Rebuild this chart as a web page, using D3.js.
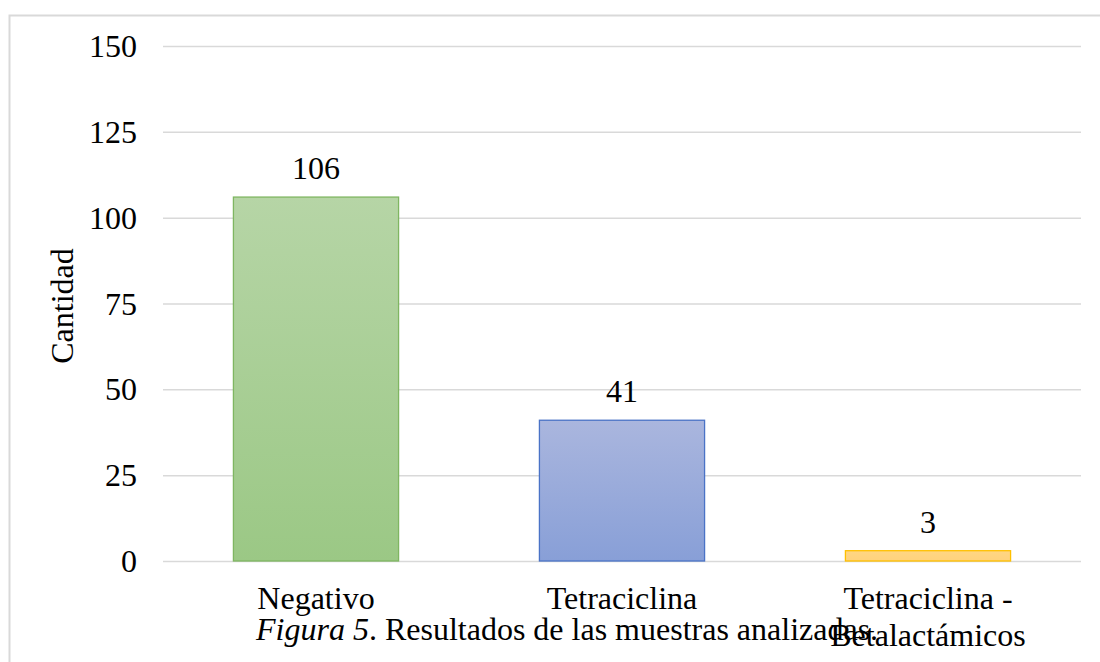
<!DOCTYPE html>
<html>
<head>
<meta charset="utf-8">
<script src="https://cdn.jsdelivr.net/npm/d3@7"></script>
<style>
  html, body { margin: 0; padding: 0; background: #fff; }
  svg { display: block; }
  svg text { font-family: "Liberation Serif", "Times New Roman", serif !important; fill: #000; }
</style>
</head>
<body>
<svg id="chart" width="1100" height="662"></svg>
<script>
// Resultados de las muestras analizadas
const categories = ["Negativo", "Tetraciclina", "Tetraciclina - Betalactámicos"];
const categoryLines = [["Negativo"], ["Tetraciclina"], ["Tetraciclina -", "Betalactámicos"]];
const values = [106, 41, 3];
const yTicks = [0, 25, 50, 75, 100, 125, 150];
const fillTop = ["#b6d5a6", "#aab6de", "#ffd684"];
const fillBottom = ["#9bc885", "#889fd7", "#ffd27c"];
const strokes = ["#7fb661", "#4a73c6", "#ffc000"];

const FONT = "Liberation Serif";
const FS = 32;

const svg = d3.select("#chart");
const W = 1100, H = 662;
const margin = { left: 163, right: 19, top: 46, bottom: 101 };

// Chart frame
svg.append("rect")
  .attr("x", 9.5).attr("y", 15.5)
  .attr("width", W).attr("height", H)
  .attr("fill", "none").attr("stroke", "#d9d9d9").attr("stroke-width", 2);

const x = d3.scaleBand()
  .domain(categories)
  .range([margin.left, W - margin.right])
  .paddingInner(0.457).paddingOuter(0.2285);

const y = d3.scaleLinear()
  .domain([0, 150])
  .range([H - margin.bottom, margin.top]);

// Gradients
const defs = svg.append("defs");
categories.forEach((c, i) => {
  const g = defs.append("linearGradient")
    .attr("id", "grad" + i)
    .attr("x1", 0).attr("y1", 0).attr("x2", 0).attr("y2", 1);
  g.append("stop").attr("offset", "0%").attr("stop-color", fillTop[i]);
  g.append("stop").attr("offset", "100%").attr("stop-color", fillBottom[i]);
});

// Gridlines and tick labels
const yAxis = d3.axisLeft(y).tickValues(yTicks).tickSize(-(W - margin.left - margin.right)).tickPadding(26);
const ga = svg.append("g")
  .attr("transform", `translate(${margin.left},0)`)
  .call(yAxis)
  .attr("font-family", FONT)
  .attr("font-size", FS);
ga.select(".domain").remove();
ga.selectAll(".tick line").attr("stroke", "#d9d9d9").attr("stroke-width", 1.5);
ga.selectAll(".tick text")
  .attr("fill", "#000")
  .attr("text-anchor", "end")
  .attr("dy", "0.33em");

// Bars
svg.append("g").selectAll("rect")
  .data(values)
  .join("rect")
  .attr("x", (d, i) => x(categories[i]) + 0.5)
  .attr("y", d => y(d))
  .attr("width", x.bandwidth() - 1)
  .attr("height", d => y(0) - y(d))
  .attr("fill", (d, i) => `url(#grad${i})`)
  .attr("stroke", (d, i) => strokes[i])
  .attr("stroke-width", 1.3);

// Value labels
svg.append("g")
  .attr("font-family", FONT).attr("font-size", FS)
  .selectAll("text")
  .data(values)
  .join("text")
  .attr("x", (d, i) => x(categories[i]) + x.bandwidth() / 2)
  .attr("y", d => y(d) - 18)
  .attr("text-anchor", "middle")
  .text(d => d);

// Category labels
const cl = svg.append("g")
  .attr("font-family", FONT).attr("font-size", FS)
  .selectAll("text")
  .data(categories)
  .join("text")
  .attr("x", c => x(c) + x.bandwidth() / 2)
  .attr("y", 609)
  .attr("text-anchor", "middle");
cl.each(function (c, i) {
  d3.select(this).selectAll("tspan")
    .data(categoryLines[i])
    .join("tspan")
    .attr("x", x(c) + x.bandwidth() / 2)
    .attr("dy", (d, j) => j === 0 ? 0 : 37)
    .text(d => d);
});

// Y axis title
svg.append("text")
  .attr("transform", `translate(73,306) rotate(-90)`)
  .attr("text-anchor", "middle")
  .attr("font-family", FONT).attr("font-size", FS)
  .text("Cantidad");

// Caption
const cap = svg.append("text")
  .attr("x", 256).attr("y", 640)
  .attr("font-family", FONT).attr("font-size", FS);
cap.append("tspan").attr("font-style", "italic").text("Figura 5");
cap.append("tspan").text(". Resultados de las muestras analizadas.");
</script>
</body>
</html>
